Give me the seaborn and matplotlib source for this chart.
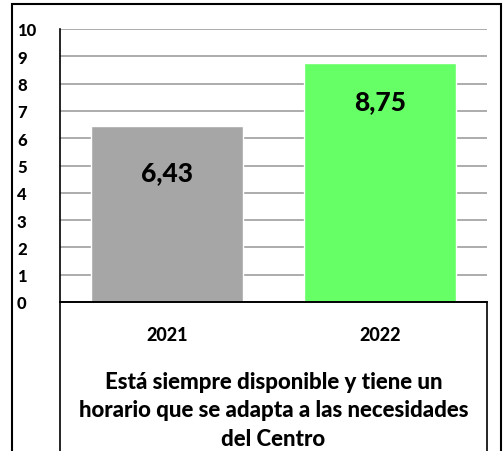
"""
Gráfico de barras: valoración 2021 vs 2022
"""

import matplotlib
matplotlib.use("Agg")
import matplotlib.pyplot as plt
import seaborn as sns
import pandas as pd
from matplotlib.patches import Rectangle

# Datos
years = ["2021", "2022"]
scores = [6.43, 8.75]
bar_colors = ["#a6a6a6", "#66ff66"]
y_ticks = list(range(0, 11))
title_text = "Está siempre disponible y tiene un\nhorario que se adapta a las necesidades\ndel Centro"

sns.set_style("white")
plt.rcParams["font.family"] = ["Lato", "DejaVu Sans"]
plt.rcParams["text.color"] = "black"
plt.rcParams["xtick.color"] = "black"
plt.rcParams["ytick.color"] = "black"

W, H = 503, 452
fig = plt.figure(figsize=(W / 100, H / 100), dpi=100)

# posición del área de trazado en píxeles
x0, x1, ytop, ybot = 60, 487, 30, 303
ax = fig.add_axes([x0 / W, 1 - ybot / H, (x1 - x0) / W, (ybot - ytop) / H])

df = pd.DataFrame({"year": years, "score": scores})
sns.barplot(data=df, x="year", y="score", hue="year", palette=bar_colors,
            legend=False, width=0.71, saturation=1, ax=ax, zorder=2)

ax.set_ylim(0, 10)
ax.set_xlim(-0.5, 1.5)
ax.set_yticks(y_ticks)
ax.yaxis.grid(True, color="#a6a6a6", linewidth=1.3, zorder=0)
ax.set_axisbelow(True)
ax.set_xlabel("")
ax.set_ylabel("")

for side in ["top", "right"]:
    ax.spines[side].set_visible(False)
for side in ["left", "bottom"]:
    ax.spines[side].set_color("black")
    ax.spines[side].set_linewidth(1.2)

ax.tick_params(axis="y", length=0, pad=31, labelsize=12)
for lab in ax.get_yticklabels():
    lab.set_fontweight("black")
    lab.set_horizontalalignment("left")
ax.tick_params(axis="x", length=0, pad=17, labelsize=13)
for lab in ax.get_xticklabels():
    lab.set_fontweight("black")

# etiquetas de valor
label_drop = [1.67, 1.39]
for i, v in enumerate(scores):
    ax.text(i, v - label_drop[i], f"{v:.2f}".replace(".", ","),
            ha="center", va="center", fontsize=19, fontweight="black")

# caja de la tabla inferior
fig.patches.append(Rectangle((x0 / W, -0.1), (x1 - x0) / W, 1 - ybot / H + 0.1,
                             transform=fig.transFigure, fill=False, edgecolor="black",
                             linewidth=1.2))

fig.text((x0 + x1) / 2 / W, 1 - 411 / H, title_text, ha="center", va="center",
         fontsize=16, fontweight="black", linespacing=1.42)

# borde exterior
fig.patches.append(Rectangle((12 / W, -0.1), (501 - 12) / W, 1 - 5 / H + 0.1,
                             transform=fig.transFigure, fill=False, edgecolor="black",
                             linewidth=1.5))

fig.savefig("out.png", dpi=100)
